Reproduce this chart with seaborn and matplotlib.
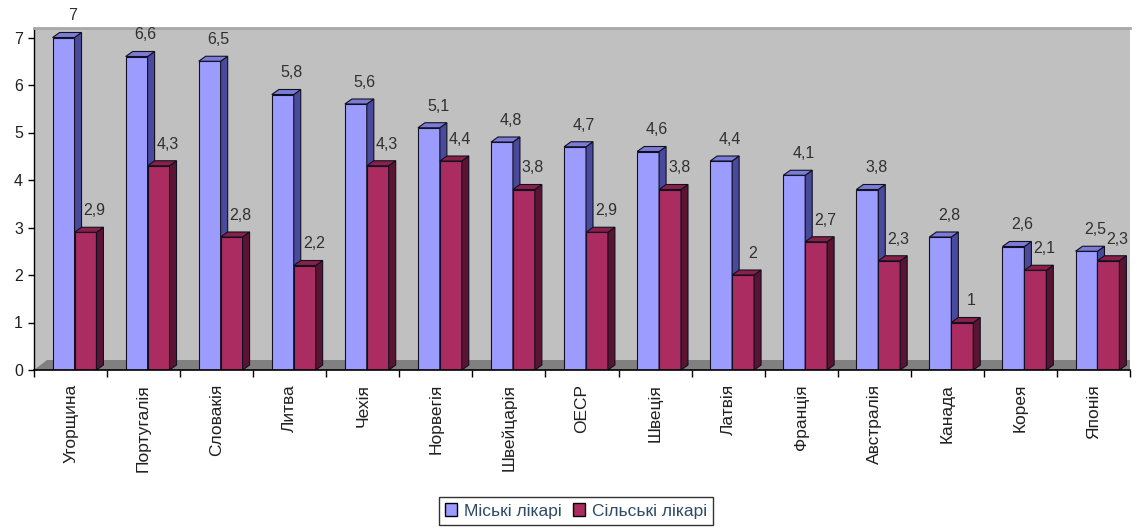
import numpy as np
import pandas as pd
import matplotlib
matplotlib.use("Agg")
import matplotlib.pyplot as plt
from matplotlib.patches import Polygon
from matplotlib.ticker import FixedLocator
import seaborn as sns

countries = ["Угорщина", "Португалія", "Словакія", "Литва", "Чехія", "Норвегія",
             "Швейцарія", "ОЕСР", "Швеція", "Латвія", "Франція", "Австралія",
             "Канада", "Корея", "Японія"]
urban = [7, 6.6, 6.5, 5.8, 5.6, 5.1, 4.8, 4.7, 4.6, 4.4, 4.1, 3.8, 2.8, 2.6, 2.5]
rural = [2.9, 4.3, 2.8, 2.2, 4.3, 4.4, 3.8, 2.9, 3.8, 2, 2.7, 2.3, 1, 2.1, 2.3]
series_names = ["Міські лікарі", "Сільські лікарі"]
y_ticks = [0, 1, 2, 3, 4, 5, 6, 7]

front_colors = ["#9C9CFF", "#AA2C60"]
side_colors = ["#4A4A9C", "#5A1432"]
top_colors = ["#7C7CD8", "#8A2048"]

df = pd.DataFrame({
    "country": countries * 2,
    "value": urban + rural,
    "series": [series_names[0]] * len(countries) + [series_names[1]] * len(countries),
})

sns.set_theme(style="white")
plt.rcParams["font.family"] = ["Liberation Sans", "DejaVu Sans"]

fig = plt.figure(figsize=(11.37, 5.31), dpi=100)
ax = fig.add_axes([34 / 1137, 1 - 370 / 531, 1096 / 1137, 342 / 531])
ax.set_facecolor("#C0C0C0")

sns.barplot(data=df, x="country", y="value", hue="series", order=countries,
            hue_order=series_names, palette=front_colors, width=0.6,
            edgecolor="#101020", linewidth=0.8, saturation=1, ax=ax, legend=False)

ax.set_ylim(0, 342 / 47.5)
ax.set_xlim(-0.5, len(countries) - 0.5)

# pixel-based depth for the pseudo-3D faces
px_x = (len(countries)) / 1096.0
px_y = (342 / 47.5) / 342.0
dx = 7 * px_x
dy = 5 * px_y
shift = 4 * px_x

# floor
floor_h = 10 / 342
ax.add_patch(Polygon([(0, 0), (1, 0), (1.0, floor_h), (0.012, floor_h)], closed=True,
                     transform=ax.transAxes, facecolor="#808080", edgecolor="none", zorder=1))

for si, cont in enumerate(ax.containers):
    for p in cont.patches:
        p.set_x(p.get_x() + shift)
        p.set_zorder(2 + si * 0.2)
        x, w, h = p.get_x(), p.get_width(), p.get_height()
        side = Polygon([(x + w, 0), (x + w + dx, dy), (x + w + dx, h + dy), (x + w, h)],
                       closed=True, facecolor=side_colors[si], edgecolor="#101020",
                       linewidth=0.8, zorder=2.1 + si * 0.2)
        top = Polygon([(x, h), (x + dx, h + dy), (x + w + dx, h + dy), (x + w, h)],
                      closed=True, facecolor=top_colors[si], edgecolor="#101020",
                      linewidth=0.8, zorder=2.1 + si * 0.2)
        ax.add_patch(side)
        ax.add_patch(top)
        lbl = f"{h:g}".replace(".", ",")
        ax.annotate(lbl, xy=(x + w / 2 + dx, h + dy), xytext=(1.5, 12),
                    textcoords="offset points", ha="center", va="center",
                    fontsize=11.5, color="#303030", zorder=5)

# axes styling
ax.spines["right"].set_visible(False)
ax.spines["top"].set_color("#A8A8A8")
ax.spines["top"].set_linewidth(2)
ax.spines["left"].set_color("black")
ax.spines["left"].set_linewidth(1)
ax.spines["bottom"].set_color("black")
ax.spines["bottom"].set_linewidth(1.2)

ax.set_yticks(y_ticks)
ax.set_yticklabels([str(t) for t in y_ticks], fontsize=11.5, color="#202020")
ax.tick_params(axis="y", which="major", left=True, length=4, width=1, color="black", pad=4)

ax.set_xticks(range(len(countries)))
ax.set_xticklabels(countries, rotation=90, fontsize=12.5, color="#202020", va="top")
ax.tick_params(axis="x", which="major", bottom=True, length=0, pad=10)
ax.xaxis.set_minor_locator(FixedLocator(np.arange(-0.5, len(countries), 1.0)))
ax.tick_params(axis="x", which="minor", bottom=True, length=5, width=1, color="black")

ax.set_xlabel("")
ax.set_ylabel("")
ax.grid(False)

handles = [plt.Rectangle((0, 0), 1, 1, facecolor=c, edgecolor="black", linewidth=1)
           for c in front_colors]
leg = fig.legend(handles, series_names, loc="center", bbox_to_anchor=(576 / 1137, 1 - 511 / 531),
                 ncol=2, frameon=True, fontsize=12.5, handlelength=0.7, handleheight=0.7,
                 handletextpad=0.4, columnspacing=0.6, borderpad=0.35, fancybox=False,
                 labelcolor="#2E4A66")
leg.get_frame().set_edgecolor("black")
leg.get_frame().set_linewidth(1)

fig.savefig("out.png", dpi=100)
